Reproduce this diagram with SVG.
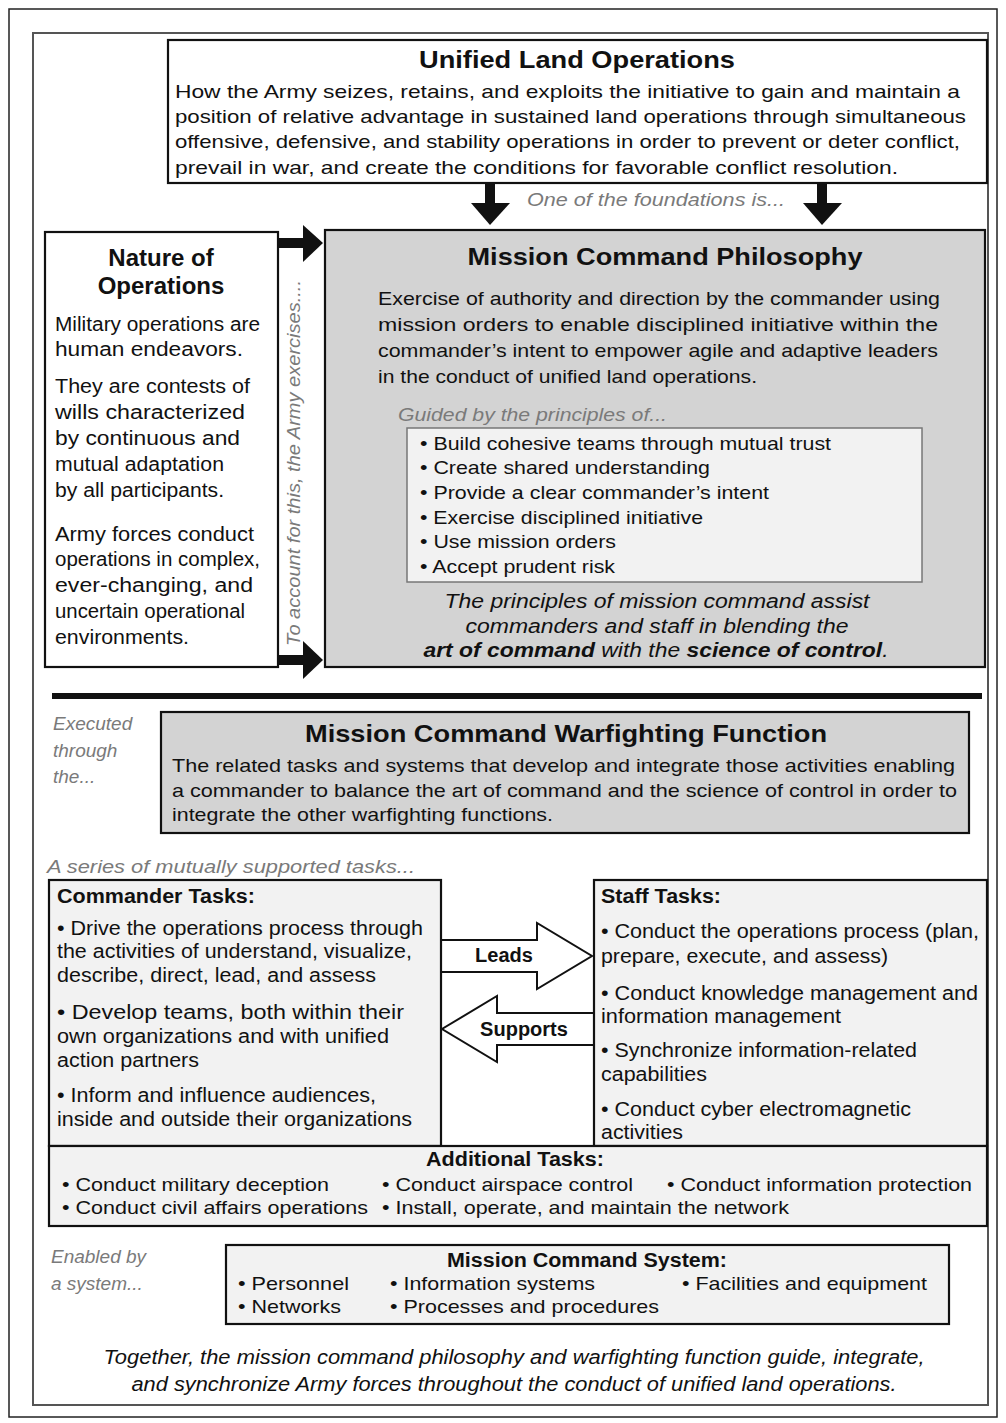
<svg xmlns="http://www.w3.org/2000/svg" width="1006" height="1423" viewBox="0 0 1006 1423">
<style>
text{font-family:"Liberation Sans",Arial,sans-serif;fill:#111}
.t{font-size:19px}
.n{font-size:20px}
.h{font-size:24px;font-weight:bold}
.hb{font-size:20px;font-weight:bold}
.g{font-size:19px;font-style:italic;fill:#7a7a7a}
.i{font-size:20px;font-style:italic}
.box{fill:#fff;stroke:#111;stroke-width:2.2}
.grey{fill:#d3d3d3;stroke:#111;stroke-width:2.2}
.light{fill:#f2f2f2;stroke:#111;stroke-width:2.2}
.arr{fill:#111}
.blk{fill:#fff;stroke:#111;stroke-width:2}
</style>
<rect x="0" y="0" width="1006" height="1423" fill="#fff"/>
<rect x="9" y="9" width="988" height="1408" fill="none" stroke="#222" stroke-width="1.5"/>
<rect x="33" y="33" width="955" height="1372" fill="none" stroke="#555" stroke-width="2"/>

<g id="ulo">
<rect class="box" x="168" y="40" width="819" height="143"/>
<text class="h" x="577" y="68" text-anchor="middle" textLength="316" lengthAdjust="spacingAndGlyphs">Unified Land Operations</text>
<text class="t" x="175" y="98" textLength="785" lengthAdjust="spacingAndGlyphs">How the Army seizes, retains, and exploits the initiative to gain and maintain a</text>
<text class="t" x="175" y="123" textLength="791" lengthAdjust="spacingAndGlyphs">position of relative advantage in sustained land operations through simultaneous</text>
<text class="t" x="175" y="148" textLength="785" lengthAdjust="spacingAndGlyphs">offensive, defensive, and stability operations in order to prevent or deter conflict,</text>
<text class="t" x="175" y="174" textLength="723" lengthAdjust="spacingAndGlyphs">prevail in war, and create the conditions for favorable conflict resolution.</text>
</g>

<g id="nature">
<rect class="box" x="45" y="232" width="233" height="435"/>
<text class="h" x="161" y="266" text-anchor="middle">Nature of</text>
<text class="h" x="161" y="294" text-anchor="middle">Operations</text>
<text class="n" x="55" y="331" textLength="205" lengthAdjust="spacingAndGlyphs">Military operations are</text>
<text class="n" x="55" y="356" textLength="188" lengthAdjust="spacingAndGlyphs">human endeavors.</text>
<text class="n" x="55" y="393" textLength="195" lengthAdjust="spacingAndGlyphs">They are contests of</text>
<text class="n" x="55" y="419" textLength="190" lengthAdjust="spacingAndGlyphs">wills characterized</text>
<text class="n" x="55" y="445" textLength="185" lengthAdjust="spacingAndGlyphs">by continuous and</text>
<text class="n" x="55" y="471" textLength="169" lengthAdjust="spacingAndGlyphs">mutual adaptation</text>
<text class="n" x="55" y="497" textLength="169" lengthAdjust="spacingAndGlyphs">by all participants.</text>
<text class="n" x="55" y="541" textLength="199" lengthAdjust="spacingAndGlyphs">Army forces conduct</text>
<text class="n" x="55" y="566" textLength="205" lengthAdjust="spacingAndGlyphs">operations in complex,</text>
<text class="n" x="55" y="592" textLength="198" lengthAdjust="spacingAndGlyphs">ever-changing, and</text>
<text class="n" x="55" y="618" textLength="190" lengthAdjust="spacingAndGlyphs">uncertain operational</text>
<text class="n" x="55" y="644" textLength="134" lengthAdjust="spacingAndGlyphs">environments.</text>
</g>

<g id="mcp">
<rect class="grey" x="325" y="230" width="660" height="437"/>
<text class="h" x="665" y="265" text-anchor="middle" textLength="395" lengthAdjust="spacingAndGlyphs">Mission Command Philosophy</text>
<text class="t" x="378" y="305" textLength="562" lengthAdjust="spacingAndGlyphs">Exercise of authority and direction by the commander using</text>
<text class="t" x="378" y="331" textLength="560" lengthAdjust="spacingAndGlyphs">mission orders to enable disciplined initiative within the</text>
<text class="t" x="378" y="357" textLength="560" lengthAdjust="spacingAndGlyphs">commander’s intent to empower agile and adaptive leaders</text>
<text class="t" x="378" y="383" textLength="379" lengthAdjust="spacingAndGlyphs">in the conduct of unified land operations.</text>
<text class="g" x="398" y="421" textLength="269" lengthAdjust="spacingAndGlyphs">Guided by the principles of...</text>
<rect x="407" y="428" width="515" height="154" fill="#f2f2f2" stroke="#777" stroke-width="1.5"/>
<text class="t" x="420" y="450" textLength="411" lengthAdjust="spacingAndGlyphs">• Build cohesive teams through mutual trust</text>
<text class="t" x="420" y="474" textLength="290" lengthAdjust="spacingAndGlyphs">• Create shared understanding</text>
<text class="t" x="420" y="499" textLength="349" lengthAdjust="spacingAndGlyphs">• Provide a clear commander’s intent</text>
<text class="t" x="420" y="524" textLength="283" lengthAdjust="spacingAndGlyphs">• Exercise disciplined initiative</text>
<text class="t" x="420" y="548" textLength="196" lengthAdjust="spacingAndGlyphs">• Use mission orders</text>
<text class="t" x="420" y="573" textLength="195" lengthAdjust="spacingAndGlyphs">• Accept prudent risk</text>
<text class="i" x="657" y="608" text-anchor="middle" textLength="425" lengthAdjust="spacingAndGlyphs">The principles of mission command assist</text>
<text class="i" x="657" y="633" text-anchor="middle" textLength="383" lengthAdjust="spacingAndGlyphs">commanders and staff in blending the</text>
<text class="i" x="656" y="657" text-anchor="middle" textLength="465" lengthAdjust="spacingAndGlyphs"><tspan font-weight="bold">art of command</tspan> with the <tspan font-weight="bold">science of control</tspan>.</text>
</g>

<g id="connectors">
<rect class="arr" x="485" y="183" width="10" height="22"/>
<polygon class="arr" points="471,203 510,203 490,225"/>
<rect class="arr" x="817" y="183" width="10" height="22"/>
<polygon class="arr" points="803,203 842,203 822,225"/>
<rect class="arr" x="278" y="238" width="27" height="10"/>
<polygon class="arr" points="303,225 323,243 303,262"/>
<rect class="arr" x="278" y="655" width="27" height="10"/>
<polygon class="arr" points="303,641 323,660 303,679"/>
<polygon class="blk" points="441,940 537,940 537,923 592,956 537,989 537,972 441,972"/>
<polygon class="blk" points="594,1013 497,1013 497,996 442,1029 497,1062 497,1045 594,1045"/>
<text class="hb" x="504" y="962" text-anchor="middle" font-size="19">Leads</text>
<text class="hb" x="524" y="1036" text-anchor="middle" font-size="19">Supports</text>
</g>

<g id="labels">
<text class="g" x="527" y="206" textLength="258" lengthAdjust="spacingAndGlyphs">One of the foundations is...</text>
<text class="g" transform="translate(300,646) rotate(-90)" textLength="366" lengthAdjust="spacingAndGlyphs">To account for this, the Army exercises....</text>
<text class="g" x="53" y="730" font-size="20">Executed</text>
<text class="g" x="53" y="757" font-size="20">through</text>
<text class="g" x="53" y="783" font-size="20">the...</text>
<text class="g" x="47" y="873" textLength="368" lengthAdjust="spacingAndGlyphs">A series of mutually supported tasks...</text>
<text class="g" x="51" y="1263" font-size="20">Enabled by</text>
<text class="g" x="51" y="1290" font-size="20">a system...</text>
</g>

<rect x="52" y="693" width="930" height="6" fill="#111"/>

<g id="mcwf">
<rect class="grey" x="161" y="712" width="808" height="121"/>
<text class="h" x="566" y="742" text-anchor="middle" textLength="522" lengthAdjust="spacingAndGlyphs">Mission Command Warfighting Function</text>
<text class="t" x="172" y="772" textLength="783" lengthAdjust="spacingAndGlyphs">The related tasks and systems that develop and integrate those activities enabling</text>
<text class="t" x="172" y="797" textLength="785" lengthAdjust="spacingAndGlyphs">a commander to balance the art of command and the science of control in order to</text>
<text class="t" x="172" y="821" textLength="381" lengthAdjust="spacingAndGlyphs">integrate the other warfighting functions.</text>
</g>

<g id="commander">
<rect class="light" x="49" y="880" width="392" height="266"/>
<text class="hb" x="57" y="903" textLength="198" lengthAdjust="spacingAndGlyphs">Commander Tasks:</text>
<text class="n" x="57" y="935" textLength="366" lengthAdjust="spacingAndGlyphs">• Drive the operations process through</text>
<text class="n" x="57" y="958" textLength="355" lengthAdjust="spacingAndGlyphs">the activities of understand, visualize,</text>
<text class="n" x="57" y="982" textLength="319" lengthAdjust="spacingAndGlyphs">describe, direct, lead, and assess</text>
<text class="n" x="57" y="1019" textLength="347" lengthAdjust="spacingAndGlyphs">• Develop teams, both within their</text>
<text class="n" x="57" y="1043" textLength="332" lengthAdjust="spacingAndGlyphs">own organizations and with unified</text>
<text class="n" x="57" y="1067" textLength="142" lengthAdjust="spacingAndGlyphs">action partners</text>
<text class="n" x="57" y="1102" textLength="319" lengthAdjust="spacingAndGlyphs">• Inform and influence audiences,</text>
<text class="n" x="57" y="1126" textLength="355" lengthAdjust="spacingAndGlyphs">inside and outside their organizations</text>
</g>

<g id="staff">
<rect class="light" x="594" y="880" width="393" height="266"/>
<text class="hb" x="601" y="903" textLength="120" lengthAdjust="spacingAndGlyphs">Staff Tasks:</text>
<text class="n" x="601" y="938" textLength="378" lengthAdjust="spacingAndGlyphs">• Conduct the operations process (plan,</text>
<text class="n" x="601" y="963" textLength="287" lengthAdjust="spacingAndGlyphs">prepare, execute, and assess)</text>
<text class="n" x="601" y="1000" textLength="377" lengthAdjust="spacingAndGlyphs">• Conduct knowledge management and</text>
<text class="n" x="601" y="1023" textLength="240" lengthAdjust="spacingAndGlyphs">information management</text>
<text class="n" x="601" y="1057" textLength="316" lengthAdjust="spacingAndGlyphs">• Synchronize information-related</text>
<text class="n" x="601" y="1081" textLength="106" lengthAdjust="spacingAndGlyphs">capabilities</text>
<text class="n" x="601" y="1116" textLength="310" lengthAdjust="spacingAndGlyphs">• Conduct cyber electromagnetic</text>
<text class="n" x="601" y="1139" textLength="82" lengthAdjust="spacingAndGlyphs">activities</text>
</g>

<g id="additional">
<rect class="light" x="49" y="1146" width="938" height="80"/>
<text class="hb" x="515" y="1166" text-anchor="middle" font-size="19" textLength="178" lengthAdjust="spacingAndGlyphs">Additional Tasks:</text>
<text class="t" x="62" y="1191" textLength="267" lengthAdjust="spacingAndGlyphs">• Conduct military deception</text>
<text class="t" x="382" y="1191" textLength="251" lengthAdjust="spacingAndGlyphs">• Conduct airspace control</text>
<text class="t" x="667" y="1191" textLength="305" lengthAdjust="spacingAndGlyphs">• Conduct information protection</text>
<text class="t" x="62" y="1214" textLength="306" lengthAdjust="spacingAndGlyphs">• Conduct civil affairs operations</text>
<text class="t" x="382" y="1214" textLength="407" lengthAdjust="spacingAndGlyphs">• Install, operate, and maintain the network</text>
</g>

<g id="mcs">
<rect class="light" x="226" y="1245" width="723" height="79"/>
<text class="hb" x="587" y="1267" text-anchor="middle" font-size="19" textLength="280" lengthAdjust="spacingAndGlyphs">Mission Command System:</text>
<text class="t" x="238" y="1290" textLength="111" lengthAdjust="spacingAndGlyphs">• Personnel</text>
<text class="t" x="390" y="1290" textLength="205" lengthAdjust="spacingAndGlyphs">• Information systems</text>
<text class="t" x="682" y="1290" textLength="245" lengthAdjust="spacingAndGlyphs">• Facilities and equipment</text>
<text class="t" x="238" y="1313" textLength="103" lengthAdjust="spacingAndGlyphs">• Networks</text>
<text class="t" x="390" y="1313" textLength="269" lengthAdjust="spacingAndGlyphs">• Processes and procedures</text>
</g>

<g id="summary">
<text class="i" x="514" y="1364" text-anchor="middle" textLength="821" lengthAdjust="spacingAndGlyphs">Together, the mission command philosophy and warfighting function guide, integrate,</text>
<text class="i" x="514" y="1391" text-anchor="middle" textLength="765" lengthAdjust="spacingAndGlyphs">and synchronize Army forces throughout the conduct of unified land operations.</text>
</g>
</svg>
